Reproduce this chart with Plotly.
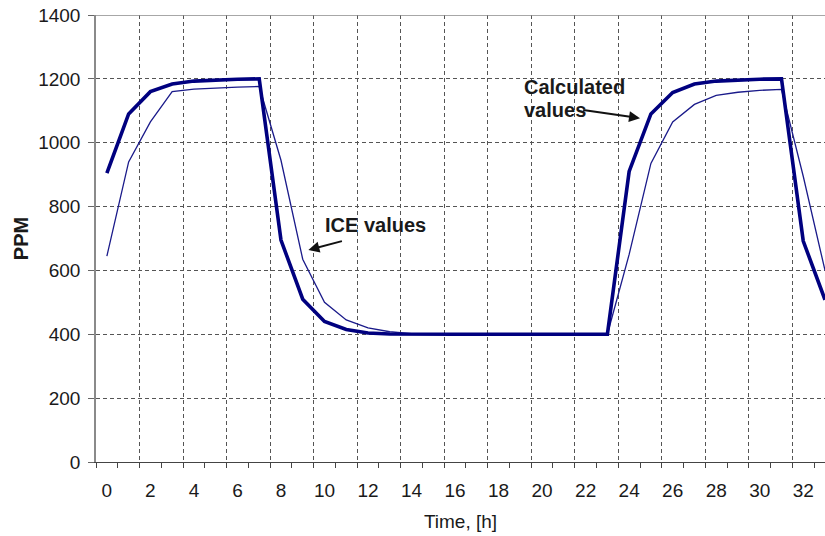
import plotly.graph_objects as go

# Hourly CO2 concentration (PPM) over 34 hours
hours = list(range(34))
calculated = [905, 1090, 1160, 1184, 1193, 1197, 1199, 1200,
              695, 510, 440, 415, 404, 401,
              400, 400, 400, 400, 400, 400, 400, 400, 400, 400,
              910, 1090, 1157, 1184, 1193, 1197, 1199, 1200,
              692, 508]
ice = [645, 940, 1065, 1160, 1168, 1172, 1174, 1176,
       945, 635, 500, 445, 420, 408, 402,
       400, 400, 400, 400, 400, 400, 400, 400, 400,
       650, 935, 1065, 1120, 1148, 1158, 1164, 1167,
       895, 600]
x_labels = [str(h) for h in range(0, 33, 2)]
y_ticks = list(range(0, 1401, 200))

FONT = "Liberation Sans, Arial, Helvetica, sans-serif"
NAVY = "#00007f"
GRID = "#555555"

fig = go.Figure()
fig.add_trace(go.Scatter(x=hours, y=ice, mode="lines",
                         line=dict(color="#1a1a8a", width=1.3),
                         name="ICE values", showlegend=False))
fig.add_trace(go.Scatter(x=hours, y=calculated, mode="lines",
                         line=dict(color=NAVY, width=3.6),
                         name="Calculated values", showlegend=False))
# invisible trace carrying the category labels on the overlay axis
fig.add_trace(go.Scatter(x=hours, y=calculated, xaxis="x2", mode="lines",
                         line=dict(width=0), hoverinfo="skip", showlegend=False))

x_range = [-0.5, 33.0]

fig.update_layout(
    width=825, height=536,
    margin=dict(l=96, r=0, t=15, b=74),
    paper_bgcolor="white", plot_bgcolor="white",
    font=dict(family=FONT, size=19, color="#1a1a1a"),
    xaxis=dict(
        range=x_range, tick0=-0.5, dtick=2,
        showticklabels=False,
        ticks="outside", ticklen=5, tickcolor="#444", tickwidth=1,
        showgrid=True, gridcolor=GRID, gridwidth=1, griddash="4px,3px",
        zeroline=False, showline=True, linecolor="#444", linewidth=1.3,
        minor=dict(tick0=-0.5, dtick=1, ticks="outside", ticklen=5,
                   tickcolor="#444", tickwidth=1, showgrid=False),
    ),
    xaxis2=dict(
        range=x_range, overlaying="x", anchor="y", side="bottom",
        tickmode="array", tickvals=list(range(0, 33, 2)), ticktext=x_labels,
        ticks="", showgrid=False, zeroline=False, showline=False,
        ticklabelstandoff=15,
        tickfont=dict(family=FONT, size=19, color="#1a1a1a"),
        title=dict(text="Time, [h]", standoff=14,
                   font=dict(family=FONT, size=19, color="#1a1a1a")),
    ),
    yaxis=dict(
        range=[0, 1400], tickmode="array", tickvals=y_ticks,
        ticks="outside", ticklen=6, tickcolor="#666",
        ticklabelstandoff=4,
        tickfont=dict(family=FONT, size=19, color="#1a1a1a"),
        showgrid=True, gridcolor=GRID, gridwidth=1, griddash="4px,3px",
        zeroline=False, showline=True, linecolor="#8a8a8a", linewidth=1.5,
        title=dict(text="<b>PPM</b>", standoff=4,
                   font=dict(family=FONT, size=20, color="#1a1a1a")),
    ),
    shapes=[dict(type="line", xref="paper", yref="y", x0=0, x1=1, y0=1400, y1=1400,
                 line=dict(color="#8a8a8a", width=1.5))],
)

ann_font = dict(family=FONT, size=20, color="#1a1a1a")
fig.add_annotation(x=12.36, y=741, xref="x", yref="y", text="<b>ICE values</b>",
                   showarrow=False, xanchor="center", yanchor="middle", font=ann_font)
fig.add_annotation(x=19.06, y=1175, xref="x", yref="y", text="<b>Calculated</b>",
                   showarrow=False, xanchor="left", yanchor="middle", font=ann_font)
fig.add_annotation(x=19.06, y=1102, xref="x", yref="y", text="<b>values</b>",
                   showarrow=False, xanchor="left", yanchor="middle", font=ann_font)
# arrows pointing at the two curves
fig.add_annotation(x=9.26, y=664, ax=10.87, ay=693, xref="x", yref="y",
                   axref="x", ayref="y", text="", showarrow=True,
                   arrowhead=2, arrowsize=1.1, arrowwidth=2, arrowcolor="#111")
fig.add_annotation(x=24.5, y=1077, ax=21.82, ay=1103, xref="x", yref="y",
                   axref="x", ayref="y", text="", showarrow=True,
                   arrowhead=2, arrowsize=1.1, arrowwidth=2, arrowcolor="#111")

fig.write_html("out.html")
